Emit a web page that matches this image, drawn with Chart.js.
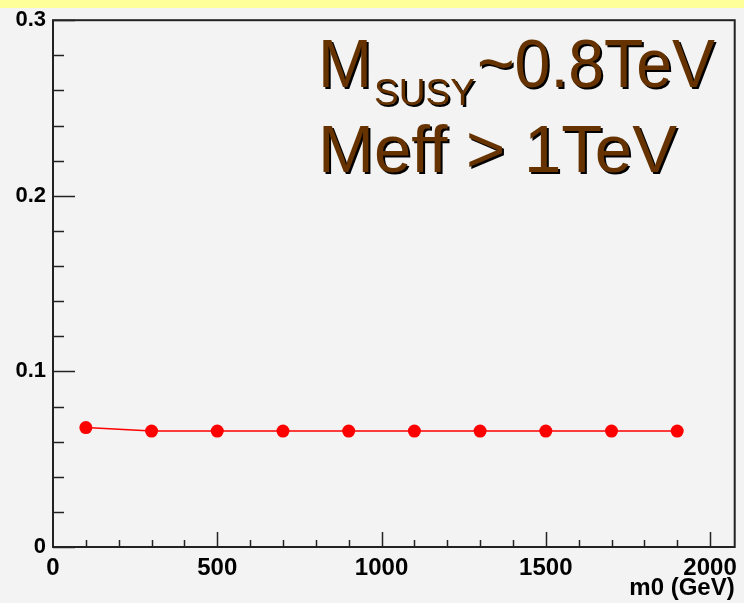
<!DOCTYPE html>
<html>
<head>
<meta charset="utf-8">
<script src="https://cdn.jsdelivr.net/npm/chart.js@4.4.1/dist/chart.umd.min.js"></script>
<style>
  html, body { margin: 0; padding: 0; background: #f3f3f3; }
  #wrap { width: 744px; height: 603px; }
</style>
</head>
<body>
<div id="wrap"><canvas id="c" width="744" height="603"></canvas></div>
<script>
// m0 values (GeV) and the measured fraction at each point
const m0 = [100, 300, 500, 700, 900, 1100, 1300, 1500, 1700, 1900];
const fraction = [0.068, 0.066, 0.066, 0.066, 0.066, 0.066, 0.066, 0.066, 0.066, 0.066];

// labelled ticks
const xTickValues = [0, 500, 1000, 1500, 2000];
const yTickValues = [0, 0.1, 0.2, 0.3];

const AXIS_COLOR = '#222';
const TEXT_BROWN = '#663300';

// page background plus the yellow strip left over from the title pad
const backgroundPlugin = {
  id: 'background',
  beforeDraw(chart) {
    const ctx = chart.ctx;
    ctx.save();
    ctx.fillStyle = '#f3f3f3';
    ctx.fillRect(0, 0, chart.width, chart.height);
    ctx.fillStyle = '#ffff99';
    ctx.fillRect(0, 0, chart.width, 8);
    ctx.restore();
  }
};

// ROOT style frame: box round the plot and ticks pointing inwards
const framePlugin = {
  id: 'frame',
  beforeDatasetsDraw(chart) {
    const ctx = chart.ctx;
    const area = chart.chartArea;
    const x = chart.scales.x;
    const y = chart.scales.y;

    ctx.save();
    ctx.strokeStyle = AXIS_COLOR;
    ctx.lineWidth = 1.5;

    // y ticks every 0.02, long ones every 0.1
    for (let i = 0; i <= 15; i++) {
      const py = Math.round(y.getPixelForValue(i * 0.02)) + 0.5;
      const len = i % 5 === 0 ? 22 : 11;
      ctx.beginPath();
      ctx.moveTo(area.left, py);
      ctx.lineTo(area.left + len, py);
      ctx.stroke();
    }

    // x ticks every 100, long ones every 500
    for (let v = 100; v <= 2000; v += 100) {
      const px = Math.round(x.getPixelForValue(v)) + 0.5;
      const len = v % 500 === 0 ? 15 : 7;
      ctx.beginPath();
      ctx.moveTo(px, area.bottom);
      ctx.lineTo(px, area.bottom - len);
      ctx.stroke();
    }

    ctx.lineWidth = 2;
    ctx.strokeRect(area.left, area.top, area.right - area.left, area.bottom - area.top);
    ctx.restore();
  }
};

// draw a piece of text squeezed to a given width, with a black drop shadow
function shadowText(ctx, text, left, baseline, size, width) {
  ctx.font = size + 'px "Liberation Sans", Arial, sans-serif';
  const natural = ctx.measureText(text).width;
  const sx = width / natural;
  [['#000', 2], [TEXT_BROWN, 0]].forEach(([color, off]) => {
    ctx.save();
    ctx.translate(left + off, baseline + off);
    ctx.scale(sx, 1);
    ctx.fillStyle = color;
    ctx.fillText(text, 0, 0);
    ctx.restore();
  });
}

const labelPlugin = {
  id: 'susyLabel',
  afterDraw(chart) {
    const ctx = chart.ctx;
    ctx.save();
    ctx.textBaseline = 'alphabetic';
    ctx.textAlign = 'left';
    shadowText(ctx, 'M', 318, 87, 68, 54);
    shadowText(ctx, 'SUSY', 374, 105, 37, 101);
    shadowText(ctx, '~0.8TeV', 477, 87, 68, 238);
    shadowText(ctx, 'Meff > 1TeV', 318, 172, 66, 359);
    ctx.restore();
  }
};

const ctx = document.getElementById('c').getContext('2d');

new Chart(ctx, {
  type: 'line',
  data: {
    datasets: [{
      label: 'fraction',
      data: m0.map((v, i) => ({ x: v, y: fraction[i] })),
      borderColor: '#ff0000',
      borderWidth: 1.5,
      backgroundColor: '#ff0000',
      pointBackgroundColor: '#ff0000',
      pointBorderWidth: 0,
      pointRadius: 6.5,
      tension: 0
    }]
  },
  options: {
    responsive: false,
    animation: false,
    layout: {
      padding: { top: 17, right: 2, left: 0, bottom: 0 }
    },
    plugins: {
      legend: { display: false },
      tooltip: { enabled: false }
    },
    scales: {
      x: {
        type: 'linear',
        min: 0,
        max: 2075,
        grid: { display: false, drawTicks: false },
        border: { display: false },
        afterBuildTicks: scale => {
          scale.ticks = xTickValues.map(v => ({ value: v }));
        },
        afterFit: scale => { scale.height = 56; },
        ticks: {
          padding: 7,
          color: '#000',
          maxRotation: 0,
          font: { family: '"Liberation Sans", Arial, sans-serif', size: 24, weight: 'bold' },
          callback: v => String(v)
        },
        title: {
          display: true,
          text: 'm0 (GeV)',
          align: 'end',
          color: '#000',
          padding: { top: 0, bottom: 0 },
          font: { family: '"Liberation Sans", Arial, sans-serif', size: 24, weight: 'bold' }
        }
      },
      y: {
        type: 'linear',
        min: 0,
        max: 0.3,
        grid: { display: false, drawTicks: false },
        border: { display: false },
        afterBuildTicks: scale => {
          scale.ticks = yTickValues.map(v => ({ value: v }));
        },
        afterFit: scale => { scale.width = 53; },
        ticks: {
          padding: 7,
          color: '#000',
          font: { family: '"Liberation Sans", Arial, sans-serif', size: 22, weight: 'bold' },
          callback: v => String(Math.round(v * 10) / 10)
        }
      }
    }
  },
  plugins: [backgroundPlugin, framePlugin, labelPlugin]
});
</script>
</body>
</html>
